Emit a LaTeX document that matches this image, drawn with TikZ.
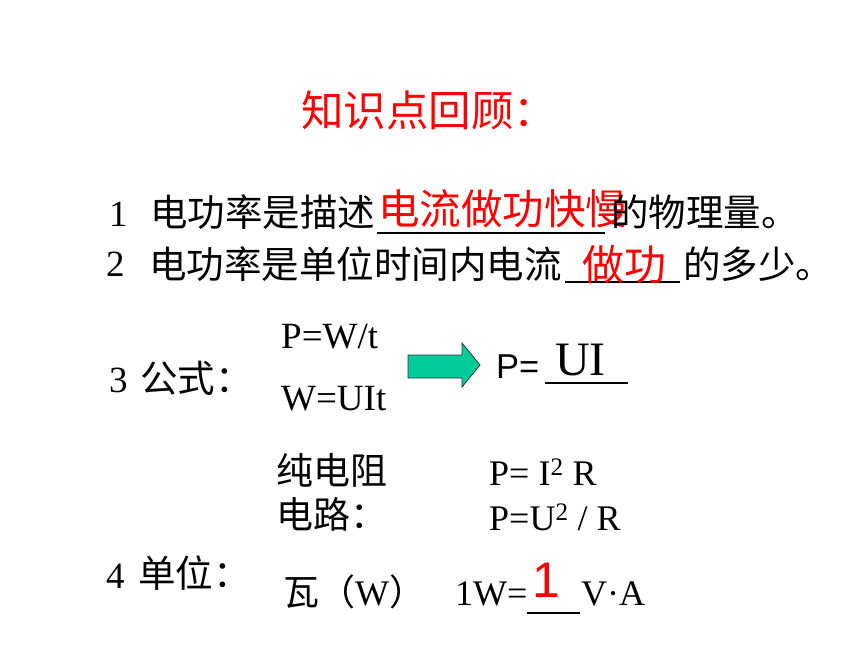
\documentclass[tikz,border=0pt]{standalone}
\usepackage{fontspec}
\setmainfont{Liberation Serif}
\newfontfamily\cjk{Noto Sans CJK SC}
\newfontfamily\arialfont{Liberation Sans}
\usetikzlibrary{positioning}
\newcommand{\pxsize}[1]{\fontsize{#1}{#1}\selectfont}
\definecolor{arrowgreen}{RGB}{0,204,153}

\begin{document}
\begin{tikzpicture}[
        x=1pt, y=-1pt,
        cjktxt/.style={inner sep=0pt, anchor=west, font=\cjk\pxsize{37.5}},
        lat/.style={inner sep=0pt, anchor=base west, font=\rmfamily\pxsize{37}},
        ans/.style={inner sep=0pt, anchor=west, text=red, font=\cjk\pxsize{41.5}},
        blank/.style={inner sep=0pt, minimum height=0pt, anchor=west},
        uline/.style={line width=1.5pt}
    ]
    \useasboundingbox (0,0) rectangle (860,645);

    \node[inner sep=0pt, anchor=west, text=red, font=\cjk\pxsize{42.5}] (title) at (301,110) {知识点回顾：};

    % 1
    \node[lat] (num1) at (109,226) {1};
    \node[cjktxt] (q1a) at (150,212) {电功率是描述};
    \node[blank, minimum width=228pt] (blank1) at (377,233) {};
    \draw[uline] (blank1.west) -- (blank1.east);
    \node[ans] (ans1) at (378,209) {电流做功快慢};
    \node[cjktxt] (q1b) at (611,212) {的物理量。};

    % 2
    \node[lat] (num2) at (106,276) {2};
    \node[cjktxt] (q2a) at (149,264) {电功率是单位时间内电流};
    \node[blank, minimum width=115pt] (blank2) at (565,282) {};
    \draw[uline] (blank2.west) -- (blank2.east);
    \node[ans, font=\cjk\pxsize{42}] (ans2) at (582,265) {做功};
    \node[cjktxt] (q2b) at (683,264) {的多少。};

    % 3
    \node[lat] (num3) at (109,392) {3};
    \node[cjktxt] (q3) at (140,378) {公式：};
    \node[lat] (pwt) at (281,348) {P=W/t};
    \node[lat] (wuit) at (281,410) {W=UIt};
    \draw[fill=arrowgreen, draw=black!80, line width=0.8pt]
        (408,355) -- (462,355) -- (462,343) -- (480,365) -- (462,387) -- (462,378) -- (408,378) -- cycle;
    \node[lat, font=\arialfont\pxsize{34.5}] (peq) at (496,378) {P=};
    \node[blank, minimum width=83pt] (blank3) at (545,383) {};
    \draw[uline] (blank3.west) -- (blank3.east);
    \node[lat, font=\rmfamily\pxsize{48}] (ui) at (555,375) {UI};

    \node[cjktxt, font=\cjk\pxsize{37}] (pure1) at (276,470) {纯电阻};
    \node[cjktxt, font=\cjk\pxsize{37}] (pure2) at (276,514) {电路：};
    \node[lat, font=\rmfamily\pxsize{36}] (pir) at (489,485) {P= I\textsuperscript{2} R};
    \node[lat, font=\rmfamily\pxsize{36}] (pur) at (489,530) {P=U\textsuperscript{2} / R};

    % 4
    \node[lat] (num4) at (106,588) {4};
    \node[cjktxt] (q4) at (138,573) {单位：};
    \node[lat, font=\cjk\pxsize{36}] (watt) at (283,605) {瓦（{\rmfamily W}）};
    \node[lat, font=\rmfamily\pxsize{36}] (oneW) at (455,605) {1W=};
    \node[blank, minimum width=53pt] (blank4) at (527,613) {};
    \draw[uline] (blank4.west) -- (blank4.east);
    \node[lat, text=red, font=\arialfont\pxsize{50}] (ans4) at (532,597) {1};
    \node[lat, font=\rmfamily\pxsize{36}] (va) at (581,605) {V·A};
\end{tikzpicture}
\end{document}
